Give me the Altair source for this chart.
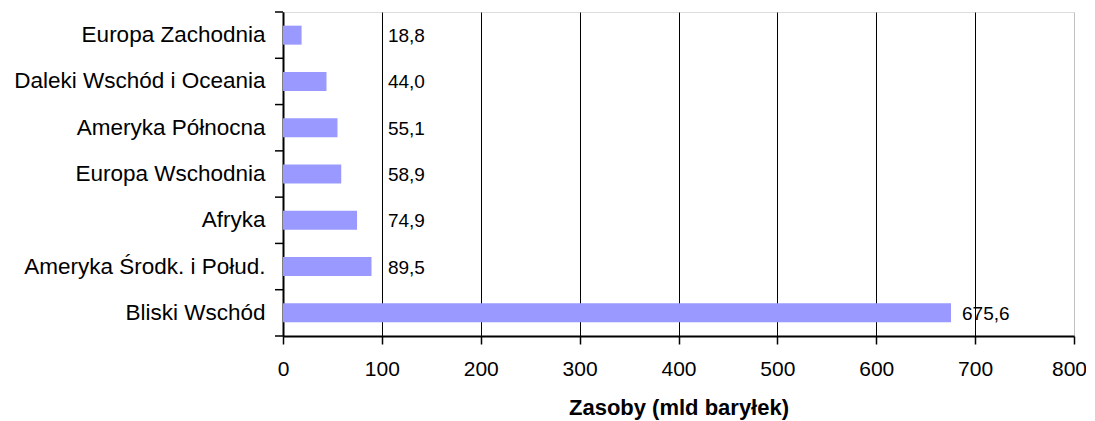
import altair as alt
import pandas as pd

regions = [
    "Europa Zachodnia",
    "Daleki Wschód i Oceania",
    "Ameryka Północna",
    "Europa Wschodnia",
    "Afryka",
    "Ameryka Środk. i Połud.",
    "Bliski Wschód",
]
reserves = [18.8, 44.0, 55.1, 58.9, 74.9, 89.5, 675.6]
x_ticks = [0, 100, 200, 300, 400, 500, 600, 700, 800]
x_title = "Zasoby (mld baryłek)"

FONT = "Liberation Sans"
BAR = "#9999FF"

df = pd.DataFrame({"region": regions, "value": reserves})
last_df = pd.DataFrame({"region": [regions[-1]]})

xscale = alt.Scale(domain=[x_ticks[0], x_ticks[-1]], nice=False, zero=True)
yscale = alt.Scale(domain=regions, paddingInner=0.59, paddingOuter=0.295)
ystep = alt.Scale(domain=regions, paddingInner=0, paddingOuter=0)

bars = alt.Chart(df).mark_bar(color=BAR).encode(
    x=alt.X(
        "value:Q",
        scale=xscale,
        axis=alt.Axis(
            values=x_ticks,
            title=x_title,
            grid=True,
            gridColor={"condition": {"test": "datum.value >= 800", "value": "#c0c0c0"}, "value": "#000000"},
            gridWidth=1,
            domainColor="#000000",
            domainWidth=2,
            tickColor="#000000",
            tickWidth=1.5,
            tickSize=8,
            labelFont=FONT,
            labelFontSize=21,
            labelColor="#000000",
            labelPadding=14,
            labelFlush=False,
            labelOffset={"condition": {"test": "datum.value >= 800", "value": -5}, "value": 0},
            titleFont=FONT,
            titleFontSize=22,
            titleFontWeight="bold",
            titleColor="#000000",
            titleBaseline="alphabetic",
            titleY=78,
        ),
    ),
    y=alt.Y(
        "region:N",
        scale=yscale,
        axis=alt.Axis(
            title=None,
            ticks=False,
            domainColor="#000000",
            domainWidth=2,
            labelFont=FONT,
            labelFontSize=22.5,
            labelColor="#000000",
            labelPadding=18,
            labelLimit=400,
        ),
    ),
)

labels = (
    alt.Chart(df)
    .transform_calculate(
        lx="max(datum.value, 95)",
        lab="replace(format(datum.value, '.1f'), '.', ',')",
    )
    .mark_text(align="left", baseline="middle", dx=11, dy=1, font=FONT, fontSize=19, color="#000000")
    .encode(
        x=alt.X("lx:Q", scale=xscale),
        y=alt.Y("region:N", scale=yscale, axis=None),
        text="lab:N",
    )
)

ticks_top = alt.Chart(df).mark_rule(color="#000000", strokeWidth=1.5).encode(
    y=alt.Y("region:N", bandPosition=0, scale=ystep, axis=None),
    x=alt.value(-8),
    x2=alt.value(0),
)
ticks_bottom = alt.Chart(last_df).mark_rule(color="#000000", strokeWidth=1.5).encode(
    y=alt.Y("region:N", bandPosition=1, scale=ystep, axis=None),
    x=alt.value(-8),
    x2=alt.value(0),
)

chart = (
    alt.layer(bars, labels, ticks_top, ticks_bottom)
    .resolve_scale(y="independent")
    .properties(
        width=791,
        height=324,
        autosize=alt.AutoSizeParams(type="none"),
        padding={"left": 275, "top": 4, "right": 12, "bottom": 84},
    )
    .configure_view(stroke="#c0c0c0", strokeWidth=1)
    .configure(background="white")
)

chart.save("out.html", embed_options={"renderer": "svg", "actions": False})
